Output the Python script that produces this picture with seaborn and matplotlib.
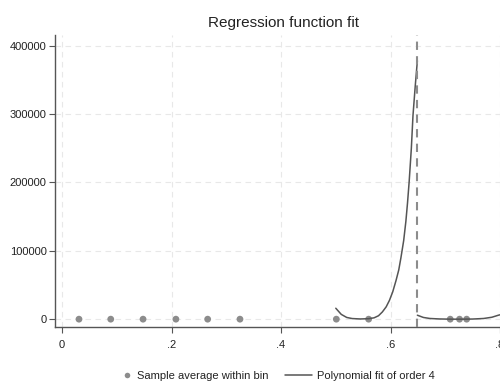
import matplotlib
matplotlib.use('Agg')
import pandas as pd
import seaborn as sns
import matplotlib.pyplot as plt
from matplotlib.lines import Line2D

# bin averages (left / right of the cutoff)
bin_x_left = [0.031, 0.089, 0.148, 0.208, 0.266, 0.325, 0.501, 0.560]
bin_y_left = [0, 0, 0, 0, 0, 0, 0, 0]
bin_x_right = [0.709, 0.726, 0.739]
bin_y_right = [0, 0, 0]

# order-4 polynomial fit
fit_x_left = [0.500, 0.510, 0.520, 0.530, 0.545, 0.560, 0.570, 0.578, 0.585, 0.592,
              0.598, 0.604, 0.610, 0.615, 0.619, 0.624, 0.628, 0.631, 0.634, 0.638,
              0.641, 0.645, 0.649]
fit_y_left = [16000, 7000, 2500, 900, 300, 700, 2000, 5000, 10500, 18000,
              27500, 40000, 56500, 72000, 90000, 115000, 143000, 170000, 201000, 250000,
              298000, 340000, 378000]
fit_x_right = [0.649, 0.660, 0.672, 0.690, 0.710, 0.730, 0.750, 0.770, 0.785, 0.797, 0.815]
fit_y_right = [5800, 2500, 1000, 300, 0, 0, 200, 1000, 2800, 5800, 9500]

cutoff = 0.649
xticks = [0, 0.2, 0.4, 0.6, 0.8]
xtick_labels = ['0', '.2', '.4', '.6', '.8']
yticks = [0, 100000, 200000, 300000, 400000]
ytick_labels = ['0', '100000', '200000', '300000', '400000']

bins = pd.DataFrame({'x': bin_x_left + bin_x_right, 'y': bin_y_left + bin_y_right})
fit_l = pd.DataFrame({'x': fit_x_left, 'y': fit_y_left})
fit_r = pd.DataFrame({'x': fit_x_right, 'y': fit_y_right})

sns.set_theme(style='white')
plt.rcParams['font.family'] = ['Liberation Sans', 'DejaVu Sans']

fig = plt.figure(figsize=(5, 3.84), dpi=100)
ax = fig.add_axes([0.11, 0.148, 0.912, 0.761])

ax.grid(True, color='#e8e8e8', linestyle=(0, (5, 4)), linewidth=0.8)
ax.set_axisbelow(True)

sns.scatterplot(data=bins, x='x', y='y', ax=ax, color='#8c8c8c', s=24,
                edgecolor='none', zorder=3, legend=False)
sns.lineplot(data=fit_l, x='x', y='y', ax=ax, color='#555555', linewidth=1.1,
             sort=False, zorder=4)
sns.lineplot(data=fit_r, x='x', y='y', ax=ax, color='#555555', linewidth=1.1,
             sort=False, zorder=4)
ax.axvline(cutoff, color='#8c8c8c', linestyle=(0, (4, 3)), linewidth=1.5, zorder=5)

ax.set_xlim(-0.0128, 0.82)
ax.set_ylim(-11700, 415800)
ax.set_xticks(xticks)
ax.set_xticklabels(xtick_labels)
ax.set_yticks(yticks)
ax.set_yticklabels(ytick_labels)
ax.tick_params(axis='both', which='major', length=4, width=0.8, color='#555555',
               labelsize=8, labelcolor='#222222', direction='out', pad=2,
               bottom=True, left=True)
ax.tick_params(axis='x', pad=5)
ax.set_xlabel('')
ax.set_ylabel('')
for side in ['top', 'right']:
    ax.spines[side].set_visible(False)
for side in ['left', 'bottom']:
    ax.spines[side].set_color('#555555')
    ax.spines[side].set_linewidth(1.0)

ax.set_title('Regression function fit', fontsize=11, color='#222222', pad=6)

# legend sits low, partly cut at the bottom edge like the reference
leg_y = 0.022
dot = Line2D([], [], marker='o', linestyle='none', color='#8c8c8c', markersize=4, markeredgewidth=0)
line = Line2D([], [], color='#555555', linewidth=1.1)
leg1 = fig.legend([dot], ['Sample average within bin'], loc='center left',
                  bbox_to_anchor=(0.243, leg_y), frameon=False, fontsize=8,
                  handlelength=1.0, handletextpad=0.4, borderpad=0, borderaxespad=0,
                  labelcolor='#222222')
leg2 = fig.legend([line], ['Polynomial fit of order 4'], loc='center left',
                  bbox_to_anchor=(0.57, leg_y), frameon=False, fontsize=8,
                  handlelength=2.4, handletextpad=0.45, borderpad=0, borderaxespad=0,
                  labelcolor='#222222')

fig.savefig('out.png', dpi=100)
